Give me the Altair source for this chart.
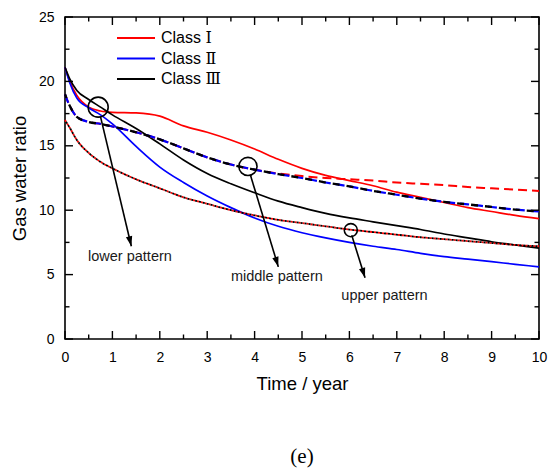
import math

import altair as alt
import pandas as pd

# ---- data -----------------------------------------------------------------
TIME = [0, 0.1, 0.25, 0.5, 0.75, 1, 1.5, 2, 2.5, 3, 3.5, 4, 4.5, 5,
        5.5, 6, 6.5, 7, 7.5, 8, 8.5, 9, 9.5, 10]

CLASSES = ["Class Ⅰ", "Class Ⅱ", "Class Ⅲ"]
COLORS = ["#ff0000", "#0000ff", "#000000"]

# lower pattern (solid)
LOWER_I = [21.1, 20.0, 18.9, 18.0, 17.7, 17.6, 17.55, 17.3, 16.55, 16.05, 15.45, 14.75,
           13.95, 13.25, 12.7, 12.3, 11.9, 11.4, 11.0, 10.6, 10.2, 9.9, 9.6, 9.35]
LOWER_II = [21.1, 19.9, 18.7, 17.95, 17.4, 16.7, 14.95, 13.35, 12.15, 11.1, 10.2, 9.4,
            8.75, 8.25, 7.85, 7.5, 7.2, 6.95, 6.65, 6.4, 6.2, 6.0, 5.8, 5.6]
LOWER_III = [21.1, 20.2, 19.3, 18.6, 18.0, 17.4, 16.35, 15.15, 13.9, 12.85, 12.05, 11.35,
             10.7, 10.2, 9.75, 9.4, 9.1, 8.8, 8.5, 8.15, 7.85, 7.55, 7.3, 7.05]

# middle pattern (dashed)
MIDDLE_I = [19.0, 18.1, 17.25, 16.85, 16.7, 16.5, 16.05, 15.5, 14.8, 14.1, 13.55, 13.15,
            12.85, 12.65, 12.5, 12.4, 12.3, 12.15, 12.05, 11.95, 11.8, 11.7, 11.6, 11.5]
MIDDLE_II = [19.0, 18.1, 17.25, 16.85, 16.7, 16.5, 16.05, 15.5, 14.8, 14.1, 13.55, 13.15,
             12.8, 12.5, 12.15, 11.85, 11.5, 11.2, 10.9, 10.65, 10.45, 10.25, 10.05, 9.9]
MIDDLE_III = list(MIDDLE_II)

# upper pattern (dotted, Class I and Class III coincide)
UPPER_I = [17.0, 16.4, 15.45, 14.45, 13.75, 13.25, 12.4, 11.7, 11.0, 10.5, 10.0, 9.6,
           9.25, 9.0, 8.75, 8.5, 8.3, 8.1, 7.9, 7.75, 7.6, 7.45, 7.3, 7.2]
UPPER_III = list(UPPER_I)

# pattern markers: circle centre, arrow start / end, label position
PATTERNS = ["lower pattern", "middle pattern", "upper pattern"]
CIRCLE_T = [0.7, 3.86, 6.03]
CIRCLE_V = [18.0, 13.4, 8.45]
CIRCLE_SIZE = [400, 330, 170]
ARROW_T0 = [0.75, 3.91, 6.05]
ARROW_V0 = [17.25, 12.75, 8.05]
ARROW_T1 = [1.4, 4.5, 6.33]
ARROW_V1 = [7.2, 5.6, 4.75]
LABEL_T = [1.37, 4.47, 6.74]
LABEL_V = [6.35, 4.85, 3.37]

X_MAJOR = list(range(0, 11))
X_MINOR = [i + 0.5 for i in range(10)]
Y_MAJOR = [0, 5, 10, 15, 20, 25]
Y_MINOR = [2.5, 7.5, 12.5, 17.5, 22.5]

# ---- layout ---------------------------------------------------------------
PLOT_W, PLOT_H = 474, 322
X_MAX, Y_MAX = 10, 25
FONT = "Liberation Sans"

x_scale = alt.Scale(domain=[0, X_MAX], nice=False, zero=False)
y_scale = alt.Scale(domain=[0, Y_MAX], nice=False, zero=False)

x_axis = alt.Axis(values=X_MAJOR, format="d", title="Time / year", grid=False, domain=False,
                  ticks=False, tickSize=0, labelFlush=False, labelOverlap=False,
                  labelFont=FONT, labelFontSize=14, labelColor="black", labelPadding=11,
                  titleFont=FONT, titleFontSize=18.5, titleFontWeight="normal",
                  titleColor="black", titlePadding=10)
y_axis = alt.Axis(values=Y_MAJOR, format="d", title="Gas water ratio", grid=False, domain=False,
                  ticks=False, tickSize=0, labelFlush=False, labelOverlap=False,
                  labelFont=FONT, labelFontSize=14, labelColor="black", labelPadding=11,
                  titleFont=FONT, titleFontSize=18.5, titleFontWeight="normal",
                  titleColor="black", titlePadding=9)


def X(field):
    return alt.X(f"{field}:Q", scale=x_scale, axis=x_axis)


def Y(field):
    return alt.Y(f"{field}:Q", scale=y_scale, axis=y_axis)


def curve(values):
    return pd.DataFrame({"t": TIME, "v": values})


# solid curves carry the class legend
lower_df = pd.concat(
    [curve(vals).assign(cls=name) for name, vals in zip(CLASSES, [LOWER_I, LOWER_II, LOWER_III])],
    ignore_index=True,
)
solid = alt.Chart(lower_df).mark_line(strokeWidth=1.7, interpolate="monotone").encode(
    x=X("t"), y=Y("v"),
    color=alt.Color(
        "cls:N", sort=CLASSES, scale=alt.Scale(domain=CLASSES, range=COLORS),
        legend=alt.Legend(
            title=None, orient="none", legendX=51, legendY=12, padding=0,
            symbolType="stroke", symbolSize=1444, symbolStrokeWidth=2,
            clipHeight=18, rowPadding=2.5, labelOffset=5,
            labelFont="Liberation Sans, Liberation Serif, DejaVu Serif",
            labelFontSize=16, labelColor="black",
        ),
    ),
)


def styled_line(values, color, dash, width, offset=0):
    return alt.Chart(curve(values)).mark_line(
        color=color, strokeDash=dash, strokeDashOffset=offset, strokeWidth=width,
        interpolate="monotone",
    ).encode(x=X("t"), y=Y("v"))


middle_layers = [
    styled_line(MIDDLE_I, COLORS[0], [9, 5], 2.0),
    styled_line(MIDDLE_II, COLORS[1], [9, 5], 2.2),
    styled_line(MIDDLE_III, COLORS[2], [7, 7], 2.3, offset=3),
]
upper_layers = [
    styled_line(UPPER_I, COLORS[0], [2, 2], 1.8),
    styled_line(UPPER_III, COLORS[2], [2, 2], 1.8, offset=2),
]

# pattern markers
marker_df = pd.DataFrame({
    "t": CIRCLE_T, "v": CIRCLE_V, "s": CIRCLE_SIZE,
})
circles = alt.Chart(marker_df).mark_point(
    shape="circle", filled=False, color="black", strokeWidth=1.6, opacity=1
).encode(x=X("t"), y=Y("v"), size=alt.Size("s:Q", scale=None, legend=None))

ang = []
for t0, v0, t1, v1 in zip(ARROW_T0, ARROW_V0, ARROW_T1, ARROW_V1):
    dx = (t1 - t0) * PLOT_W / X_MAX
    dy = (v0 - v1) * PLOT_H / Y_MAX
    ang.append((360 - math.degrees(math.atan2(dx, dy))) % 360)

arrow_df = pd.DataFrame({
    "t": ARROW_T0, "v": ARROW_V0, "t2": ARROW_T1, "v2": ARROW_V1, "ang": ang,
})
shafts = alt.Chart(arrow_df).mark_rule(color="black", strokeWidth=1.6).encode(
    x=X("t"), y=Y("v"), x2="t2:Q", y2="v2:Q"
)
HEAD = "M0,0 L-0.32,-1 L0.32,-1 Z"
heads = alt.Chart(arrow_df).mark_point(
    shape=HEAD, filled=True, color="black", size=400, strokeWidth=0, opacity=1
).encode(x=X("t2"), y=Y("v2"), angle=alt.Angle("ang:Q", scale=None))

label_df = pd.DataFrame({"t": LABEL_T, "v": LABEL_V, "label": PATTERNS})
labels = alt.Chart(label_df).mark_text(
    font=FONT, fontSize=14.5, color="#1a1a1a", align="center", baseline="middle"
).encode(x=X("t"), y=Y("v"), text="label:N")


# inward ticks on all four sides
def ticks(positions, along, fixed, length, orient, offset):
    if along == "x":
        df = pd.DataFrame({"t": positions, "v": [fixed] * len(positions)})
        mark = alt.Chart(df).mark_tick(orient=orient, size=length, thickness=1.4,
                                       color="black", yOffset=offset, opacity=1)
    else:
        df = pd.DataFrame({"t": [fixed] * len(positions), "v": positions})
        mark = alt.Chart(df).mark_tick(orient=orient, size=length, thickness=1.4,
                                       color="black", xOffset=offset, opacity=1)
    return mark.encode(x=X("t"), y=Y("v"))


MAJ, MIN = 8, 4.5
tick_layers = [
    ticks(X_MAJOR, "x", 0, MAJ, "vertical", -MAJ / 2),
    ticks(X_MAJOR, "x", Y_MAX, MAJ, "vertical", MAJ / 2),
    ticks(X_MINOR, "x", 0, MIN, "vertical", -MIN / 2),
    ticks(X_MINOR, "x", Y_MAX, MIN, "vertical", MIN / 2),
    ticks(Y_MAJOR, "y", 0, MAJ, "horizontal", MAJ / 2),
    ticks(Y_MAJOR, "y", X_MAX, MAJ, "horizontal", -MAJ / 2),
    ticks(Y_MINOR, "y", 0, MIN, "horizontal", MIN / 2),
    ticks(Y_MINOR, "y", X_MAX, MIN, "horizontal", -MIN / 2),
]

chart = alt.layer(
    solid, *middle_layers, *upper_layers, circles, shafts, heads, labels, *tick_layers
).properties(
    width=PLOT_W,
    height=PLOT_H,
    autosize=alt.AutoSizeParams(type="none"),
    padding={"left": 65, "top": 17, "right": 10, "bottom": 131},
    background="white",
    title=alt.TitleParams("(e)", orient="bottom", font="Liberation Serif", fontSize=21,
                          fontWeight="normal", color="black", anchor="middle", offset=53),
).configure_view(stroke="black", strokeWidth=1.6)

chart.save("out.html", embed_options={"renderer": "svg", "actions": False})
